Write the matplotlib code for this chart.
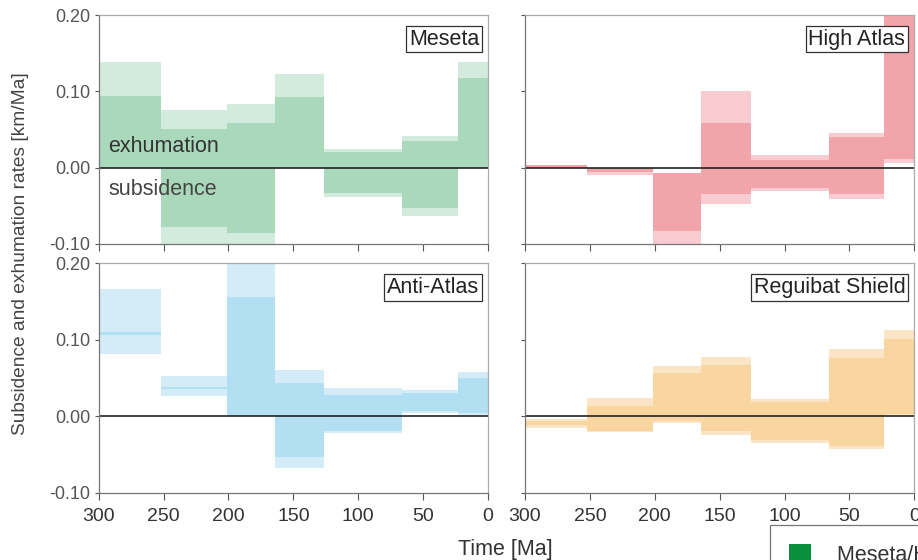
import matplotlib
matplotlib.use("Agg")
import matplotlib.pyplot as plt
from matplotlib.patches import Patch

plt.rcParams['font.family'] = ['Liberation Sans', 'DejaVu Sans']

# time boundaries of the intervals [Ma]
ages = [300, 252, 201, 164, 126, 66, 23, 0]

# Meseta
meseta_outer_lo = [0, -0.105, -0.105, 0, -0.039, -0.063, 0]
meseta_outer_hi = [0.138, 0.076, 0.083, 0.123, 0.025, 0.041, 0.138]
meseta_inner_lo = [0, -0.078, -0.085, 0, -0.033, -0.053, 0]
meseta_inner_hi = [0.094, 0.051, 0.059, 0.093, 0.020, 0.035, 0.117]

# High Atlas
hatlas_outer_lo = [0, -0.009, -0.105, -0.047, -0.031, -0.041, 0.006]
hatlas_outer_hi = [0.003, 0, -0.007, 0.100, 0.017, 0.046, 0.25]
hatlas_inner_lo = [0, -0.006, -0.083, -0.034, -0.027, -0.035, 0.011]
hatlas_inner_hi = [0.003, 0, -0.007, 0.059, 0.010, 0.040, 0.25]

# Anti-Atlas
aatlas_outer_lo = [0.082, 0.026, 0, -0.068, -0.022, 0.004, 0.002]
aatlas_outer_hi = [0.166, 0.052, 0.21, 0.061, 0.037, 0.034, 0.058]
aatlas_inner_lo = [0.106, 0.036, 0, -0.053, -0.019, 0.007, 0.004]
aatlas_inner_hi = [0.110, 0.038, 0.156, 0.043, 0.028, 0.030, 0.050]

# Reguibat Shield
reg_outer_lo = [-0.015, -0.021, -0.009, -0.024, -0.035, -0.043, 0.0]
reg_outer_hi = [-0.003, 0.024, 0.066, 0.078, 0.022, 0.088, 0.113]
reg_inner_lo = [-0.012, -0.019, -0.0065, -0.019, -0.031, -0.039, 0.003]
reg_inner_hi = [-0.006, 0.014, 0.056, 0.067, 0.018, 0.076, 0.101]

panels = [
    ("Meseta", meseta_outer_lo, meseta_outer_hi, meseta_inner_lo, meseta_inner_hi, '#d2ebdc', '#a9d9ba'),
    ("High Atlas", hatlas_outer_lo, hatlas_outer_hi, hatlas_inner_lo, hatlas_inner_hi, '#f8ccd1', '#f2a4ab'),
    ("Anti-Atlas", aatlas_outer_lo, aatlas_outer_hi, aatlas_inner_lo, aatlas_inner_hi, '#d3ecf8', '#b3dff2'),
    ("Reguibat Shield", reg_outer_lo, reg_outer_hi, reg_inner_lo, reg_inner_hi, '#fce5c6', '#f9d5a0'),
]

fig = plt.figure(figsize=(9.18, 5.6), dpi=100)

W, H = 918, 560
boxes = [(98.7, 15, 488, 244), (525, 15, 914.3, 244),
         (98.7, 263.3, 488, 492.7), (525, 263.3, 914.3, 492.7)]

left_edges = ages[1:]
widths = [a - b for a, b in zip(ages[:-1], ages[1:])]

for i, (name, olo, ohi, ilo, ihi, clight, cdark) in enumerate(panels):
    x0, y0, x1, y1 = boxes[i]
    ax = fig.add_axes([x0 / W, 1 - y1 / H, (x1 - x0) / W, (y1 - y0) / H])

    # outer range (light) then inner range (dark) on top
    ax.bar(left_edges, [h - l for l, h in zip(olo, ohi)], width=widths, bottom=olo,
           align='edge', color=clight, linewidth=0)
    ax.bar(left_edges, [h - l for l, h in zip(ilo, ihi)], width=widths, bottom=ilo,
           align='edge', color=cdark, linewidth=0)
    ax.axhline(0, color='#222222', lw=1.2)

    ax.set_xlim(300, 0)
    ax.set_ylim(-0.10, 0.20)
    ax.set_xticks([300, 250, 200, 150, 100, 50, 0])
    ax.set_yticks([-0.10, 0.0, 0.10, 0.20])

    for side in ['top', 'right']:
        ax.spines[side].set_color('#aaaaaa')
    for side in ['left', 'bottom']:
        ax.spines[side].set_color('#777777')
    for s in ax.spines.values():
        s.set_linewidth(0.9)

    ax.tick_params(axis='x', direction='out', length=5, width=0.8, color='#555555',
                   labelsize=14, labelcolor='#333333', pad=6)
    ax.tick_params(axis='y', direction='out', length=3, width=0.8, color='#555555',
                   labelsize=13, labelcolor='#555555', pad=3)

    if i < 2:
        ax.set_xticklabels([])
    if i % 2 == 1:
        ax.set_yticklabels([])
    else:
        ax.set_yticklabels(['-0.10', '0.00', '0.10', '0.20'])

    ax.text(0.977, 0.94, name, transform=ax.transAxes, ha='right', va='top',
            fontsize=15.5, color='#222222',
            bbox=dict(boxstyle='square,pad=0.12', fc='white', ec='#333333', lw=0.9))

    if i == 0:
        ax.text(0.025, 0.424, "exhumation", transform=ax.transAxes,
                ha='left', va='center', fontsize=15.5, color='#333333')
        ax.text(0.025, 0.236, "subsidence", transform=ax.transAxes,
                ha='left', va='center', fontsize=15.5, color='#444444')

fig.text(21 / W, 1 - 254 / H, "Subsidence and exhumation rates [km/Ma]", rotation=90,
         ha='center', va='center', fontsize=13.8, color='#444444')
fig.text(505 / W, 1 - 549 / H, "Time [Ma]", ha='center', va='center',
         fontsize=15.5, color='#333333')

leg = fig.legend(handles=[Patch(facecolor='#0a8f3c', edgecolor='none', label='Meseta/High Atlas')],
                 loc='upper left', bbox_to_anchor=(770 / W, 1 - 525 / H),
                 fontsize=15.5, frameon=True, fancybox=False, borderpad=0.9,
                 handlelength=1.0, handleheight=1.0, handletextpad=1.2,
                 borderaxespad=0)
leg.get_frame().set_edgecolor('#555555')
leg.get_frame().set_linewidth(0.9)
for t in leg.get_texts():
    t.set_color('#333333')

fig.savefig("out.png", dpi=100)
